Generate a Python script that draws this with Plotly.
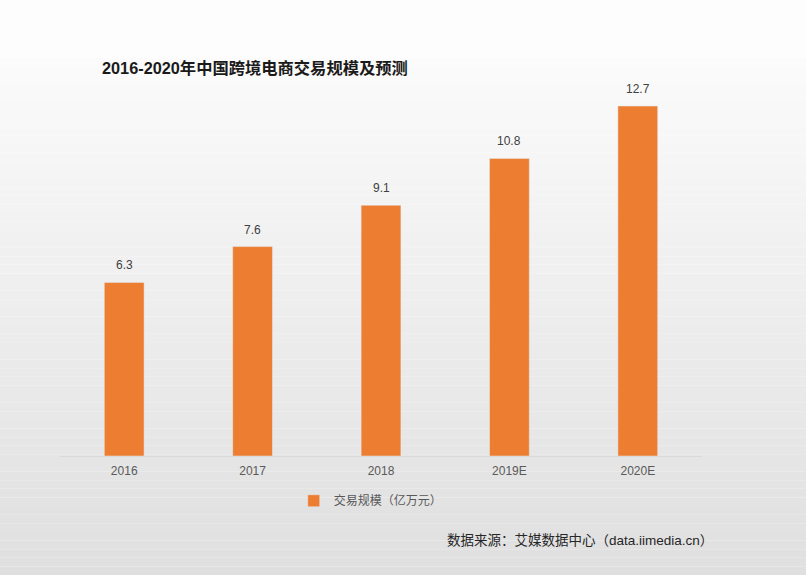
import plotly.graph_objects as go

# Datos
anios = ["2016", "2017", "2018", "2019E", "2020E"]
valores = [6.3, 7.6, 9.1, 10.8, 12.7]
serie = "交易规模（亿万元）"

W, H = 806, 575
top, bottom = 100, 456

fig = go.Figure()
fig.add_trace(go.Bar(
    x=anios, y=valores, name=serie,
    marker_color="#ED7D31",
    cliponaxis=False,
))

# Fondo degradado (franjas horizontales)
shapes = []
n = 60
y_start, y_end = 58, H
for i in range(n):
    p0 = y_start + (y_end - y_start) * i / n
    p1 = y_start + (y_end - y_start) * (i + 1) / n
    g = round(251 - (251 - 223) * (i + 0.5) / n)
    shapes.append(dict(
        type="rect", xref="paper", yref="paper", layer="below",
        x0=-1, x1=2,
        y0=(bottom - p1) / (bottom - top), y1=(bottom - p0) / (bottom - top),
        fillcolor=f"rgb({g},{g},{g})", line_width=0,
    ))

# Etiquetas de valor (x como índice de categoría)
etiquetas = [dict(x=i, y=v, text=str(v), xref="x", yref="y", showarrow=False,
                  yanchor="bottom", yshift=8, font=dict(size=12, color="#404040"))
             for i, v in enumerate(valores)]

fig.update_layout(
    width=W, height=H,
    margin=dict(l=60, r=104, t=top, b=H - bottom),
    paper_bgcolor="#fdfdfd", plot_bgcolor="rgba(0,0,0,0)",
    font=dict(family="Liberation Sans, Arial, Noto Sans CJK SC", color="#595959"),
    shapes=shapes,
    bargap=0.69,
    showlegend=True,
    legend=dict(orientation="h", x=0.484, xanchor="center", y=-0.085, yanchor="top",
                font=dict(size=12, color="#595959"), bgcolor="rgba(0,0,0,0)"),
    xaxis=dict(type="category", range=[-0.5, len(anios) - 0.5], showline=True,
               linecolor="#d9d9d9", linewidth=1, ticks="outside", ticklen=4,
               tickcolor="rgba(0,0,0,0)",
               tickfont=dict(size=12, color="#595959")),
    yaxis=dict(range=[0, 12.92], visible=False),
    annotations=etiquetas + [
        dict(text="<b>2016-2020年中国跨境电商交易规模及预测</b>", xref="paper", yref="paper",
             x=(100 - 60) / 642, y=(bottom - 68) / (bottom - top), xanchor="left", yanchor="middle",
             showarrow=False, font=dict(size=16.3, color="#1a1a1a")),
        dict(text="数据来源：艾媒数据中心（data.iimedia.cn）", xref="paper", yref="paper",
             x=(715 - 60) / 642, y=(bottom - 540) / (bottom - top), xanchor="right", yanchor="middle",
             showarrow=False, font=dict(size=13.5, color="#262626")),
    ],
)

fig.write_html("out.html", config={"displayModeBar": False},
               post_script="document.body.style.margin='0';")
